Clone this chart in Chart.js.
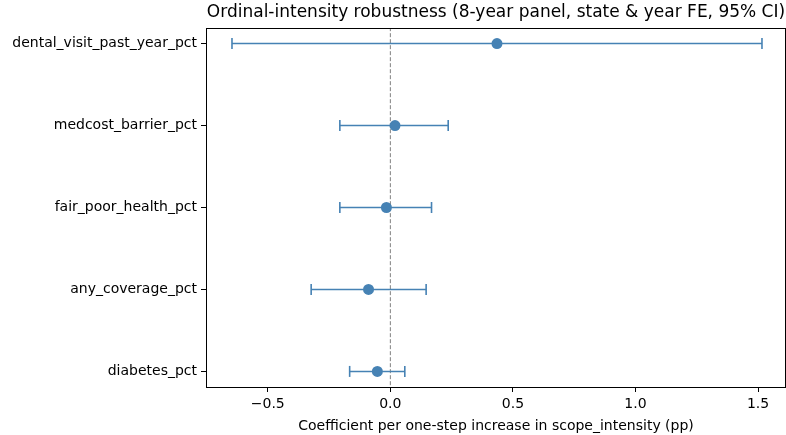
<!DOCTYPE html>
<html lang="en">
<head>
    <meta charset="UTF-8">
    <title>Ordinal-intensity robustness</title>
    <script src="https://cdn.jsdelivr.net/npm/chart.js@4/dist/chart.umd.min.js"></script>
    <style>
        body {
            margin: 0;
            background: white;
        }
        .chart-box {
            width: 786px;
            height: 435px;
        }
    </style>
</head>
<body>
<div class="chart-box">
    <canvas id="forestChart" width="786" height="435"></canvas>
</div>

<script>
    // outcomes, top to bottom
    const categories = [
        'dental_visit_past_year_pct',
        'medcost_barrier_pct',
        'fair_poor_health_pct',
        'any_coverage_pct',
        'diabetes_pct'
    ];
    const estimates = [0.435, 0.019, -0.016, -0.089, -0.053];
    const ciLow = [-0.646, -0.206, -0.206, -0.323, -0.166];
    const ciHigh = [1.516, 0.236, 0.168, 0.146, 0.059];
    const xTicks = [-0.5, 0.0, 0.5, 1.0, 1.5];

    const blue = '#4682b4';
    const font = { family: 'DejaVu Sans', size: 14 };

    // point estimates
    const datasets = [{
        type: 'scatter',
        data: estimates.map((v, i) => ({ x: v, y: i })),
        pointRadius: 5.5,
        pointBackgroundColor: blue,
        pointBorderColor: blue,
        pointBorderWidth: 0,
        order: 0
    }];

    // confidence intervals with caps
    categories.forEach((c, i) => {
        datasets.push({
            type: 'line',
            data: [{ x: ciLow[i], y: i }, { x: ciHigh[i], y: i }],
            borderColor: blue,
            borderWidth: 1.6,
            pointStyle: 'line',
            pointRotation: 90,
            pointRadius: 5.5,
            pointBorderColor: blue,
            pointBorderWidth: 1.6,
            order: 1
        });
    });

    // reference line at zero
    datasets.push({
        type: 'line',
        data: [{ x: 0, y: -0.2 }, { x: 0, y: 4.2 }],
        borderColor: '#808080',
        borderWidth: 1,
        borderDash: [4, 2],
        pointRadius: 0,
        order: 2
    });

    // box around the plot area
    const frame = {
        id: 'frame',
        afterDatasetsDraw(chart) {
            const a = chart.chartArea;
            const ctx = chart.ctx;
            ctx.save();
            ctx.strokeStyle = '#000';
            ctx.lineWidth = 1;
            ctx.strokeRect(a.left + 0.5, a.top + 0.5, a.right - a.left - 1, a.bottom - a.top);
            ctx.restore();
        }
    };

    new Chart(document.getElementById('forestChart'), {
        type: 'scatter',
        data: { datasets: datasets },
        plugins: [frame],
        options: {
            responsive: false,
            animation: false,
            layout: { autoPadding: false, padding: { left: 0, right: 0, top: 0, bottom: 0 } },
            plugins: {
                legend: { display: false },
                tooltip: { enabled: false },
                title: {
                    display: true,
                    fullSize: false,
                    text: 'Ordinal-intensity robustness (8-year panel, state & year FE, 95% CI)',
                    color: '#000',
                    font: { family: 'DejaVu Sans', size: 17, weight: 'normal' },
                    padding: { top: 2, bottom: 5.6 }
                }
            },
            scales: {
                x: {
                    type: 'linear',
                    min: -0.752,
                    max: 1.614,
                    afterBuildTicks: s => { s.ticks = xTicks.map(v => ({ value: v })); },
                    afterFit: s => { s.height = 48; s.paddingLeft = 0; s.paddingRight = 0; },
                    ticks: {
                        color: '#000',
                        font: font,
                        padding: 4,
                        maxRotation: 0,
                        callback: v => v.toFixed(1).replace('-', '\u2212')
                    },
                    grid: { drawOnChartArea: false, drawTicks: true, tickLength: 5, color: '#000' },
                    border: { color: '#000' },
                    title: {
                        display: true,
                        text: 'Coefficient per one-step increase in scope_intensity (pp)',
                        color: '#000',
                        font: font,
                        padding: { top: 2, bottom: 0 }
                    }
                },
                y: {
                    type: 'linear',
                    reverse: true,
                    min: -0.19,
                    max: 4.19,
                    afterBuildTicks: s => { s.ticks = categories.map((c, i) => ({ value: i })); },
                    afterFit: s => { s.width = 206; s.paddingTop = 0; s.paddingBottom = 0; },
                    ticks: {
                        color: '#000',
                        font: font,
                        padding: 4,
                        callback: v => categories[v]
                    },
                    grid: { drawOnChartArea: false, drawTicks: true, tickLength: 5, color: '#000' },
                    border: { color: '#000' }
                }
            }
        }
    });
</script>
</body>
</html>
